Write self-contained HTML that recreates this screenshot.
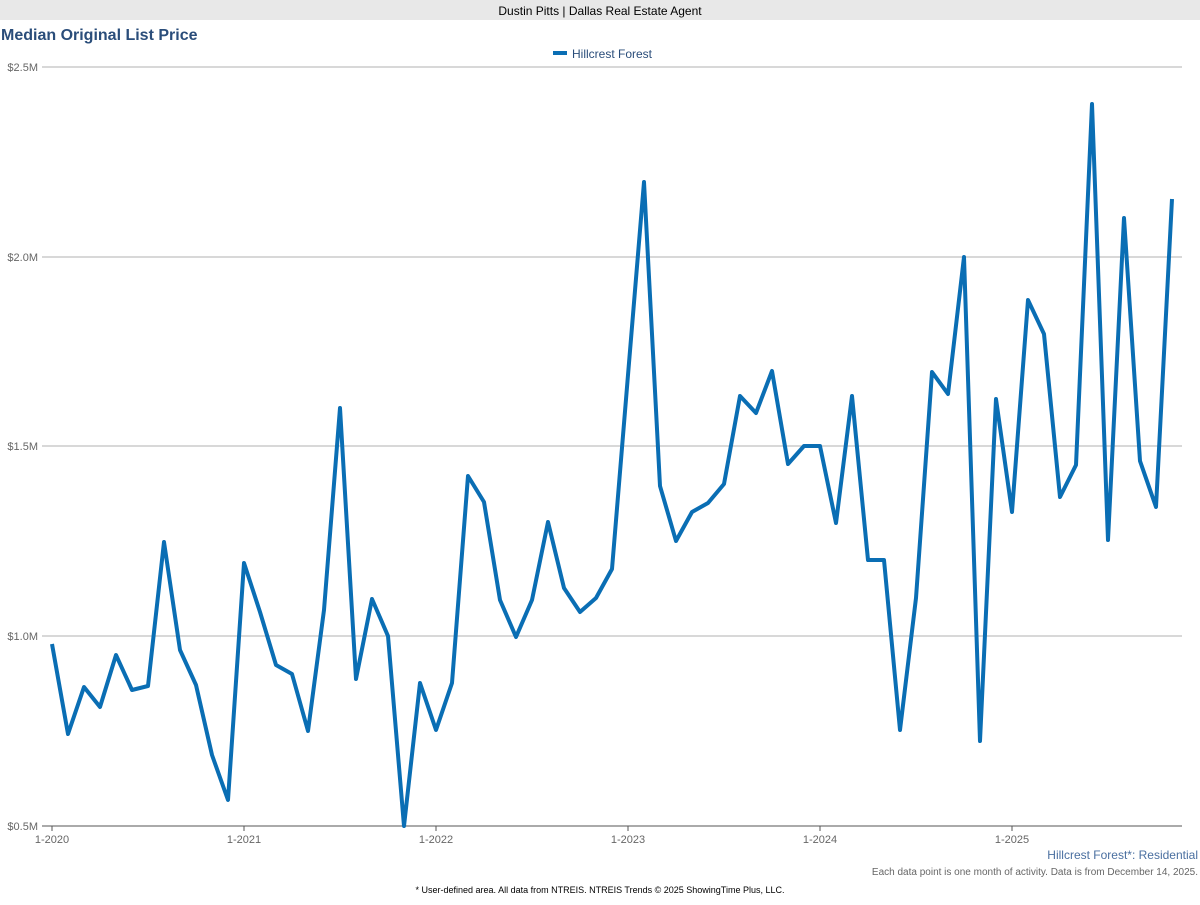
<!DOCTYPE html>
<html><head><meta charset="utf-8"><style>
body{margin:0;width:1200px;height:900px;background:#fff;font-family:"Liberation Sans",sans-serif;overflow:hidden}
</style></head><body>
<svg width="1200" height="900" xmlns="http://www.w3.org/2000/svg" font-family="Liberation Sans, sans-serif">
<rect x="0" y="0" width="1200" height="20" fill="#e8e8e8"/>
<text x="600" y="15" font-size="12" text-anchor="middle" fill="#000">Dustin Pitts | Dallas Real Estate Agent</text>
<text x="1" y="40" font-size="16" font-weight="bold" fill="#2a4d7a">Median Original List Price</text>
<line x1="553" y1="53" x2="567" y2="53" stroke="#0a6eb4" stroke-width="4"/>
<text x="572" y="58" font-size="12" fill="#2a4d7a">Hillcrest Forest</text>
<g stroke="#b0b0b0" stroke-width="1">
<line x1="42" y1="67" x2="1182" y2="67"/><line x1="42" y1="257" x2="1182" y2="257"/>
<line x1="42" y1="446" x2="1182" y2="446"/><line x1="42" y1="636" x2="1182" y2="636"/>
</g>
<line x1="42" y1="826" x2="1182" y2="826" stroke="#555" stroke-width="1"/>
<g font-size="11" fill="#666" text-anchor="end">
<text x="38" y="71">$2.5M</text><text x="38" y="261">$2.0M</text><text x="38" y="450">$1.5M</text>
<text x="38" y="640">$1.0M</text><text x="38" y="830">$0.5M</text></g>
<g stroke="#555"><line x1="52" y1="826" x2="52" y2="831"/><line x1="244" y1="826" x2="244" y2="831"/><line x1="436" y1="826" x2="436" y2="831"/><line x1="628" y1="826" x2="628" y2="831"/><line x1="820" y1="826" x2="820" y2="831"/><line x1="1012" y1="826" x2="1012" y2="831"/></g>
<g font-size="11" fill="#666" text-anchor="middle">
<text x="52" y="843">1-2020</text><text x="244" y="843">1-2021</text><text x="436" y="843">1-2022</text>
<text x="628" y="843">1-2023</text><text x="820" y="843">1-2024</text><text x="1012" y="843">1-2025</text></g>
<polyline fill="none" stroke="#0a6eb4" stroke-width="4" stroke-linejoin="round" points="52,644 68,734 84,687 100,707 116,655 132,690 148,686 164,542 180,650 196,685 212,755 228,800 244,563 260,612 276,665 292,674 308,731 324,610 340,408 356,679 372,599 388,636 404,826 420,683 436,730 452,683 468,476 484,502 500,600 516,637 532,600 548,522 564,588 580,612 596,598 612,569 628,375 644,182 660,486 676,541 692,512 708,503 724,484 740,396 756,413 772,371 788,464 804,446 820,446 836,523 852,396 868,560 884,560 900,730 916,598 932,372 948,394 964,257 980,741 996,399 1012,512 1028,300 1044,334 1060,497 1076,465 1092,104 1108,540 1124,218 1140,461 1156,507 1172,199"/>
<text x="1198" y="859" font-size="12" fill="#4a6fa0" text-anchor="end">Hillcrest Forest*: Residential</text>
<text x="1198" y="875" font-size="10" fill="#666" text-anchor="end">Each data point is one month of activity. Data is from December 14, 2025.</text>
<text x="600" y="893" font-size="9" fill="#000" text-anchor="middle">* User-defined area. All data from NTREIS. NTREIS Trends © 2025 ShowingTime Plus, LLC.</text>
</svg>
</body></html>
